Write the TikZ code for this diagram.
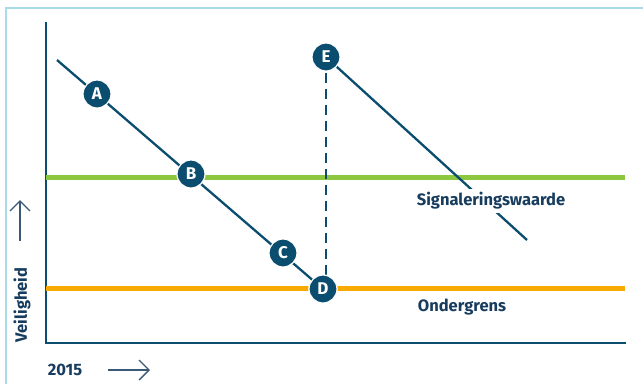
\documentclass[tikz,border=0pt]{standalone}
\usepackage{fontspec}
\setmainfont{Fira Sans}
\usetikzlibrary{arrows.meta}
\definecolor{navy}{HTML}{0B4D6E}
\definecolor{txt}{HTML}{173C5E}
\definecolor{lgreen}{HTML}{8DC63F}
\definecolor{lorange}{HTML}{F8AA00}
\definecolor{lcyan}{HTML}{A9DCE8}
\begin{document}
\begin{tikzpicture}[x=1pt,y=-1pt,
  axis/.style={navy,line width=2.6pt},
  trend/.style={navy,line width=2.3pt},
  level/.style={line width=5pt},
  pt/.style={circle,fill=navy,draw=white,line width=1.2pt,minimum size=28pt,inner sep=0pt,text=white,font=\bfseries\fontsize{17}{17}\selectfont},
  lbl/.style={text=txt,font=\bfseries\fontsize{16.5}{16.5}\selectfont},
  hint/.style={draw=txt!85,line width=1.3pt,-{Straight Barb[length=10pt,width=20pt,line width=1.3pt]}}]
\useasboundingbox (0,0) rectangle (643,384);
% frame
\draw[lcyan,line width=2pt] (6,384) -- (6,8) -- (643,8);
% axes
\coordinate (ytop) at (46,22);
\coordinate (orig) at (46,343);
\coordinate (xend) at (626,343);
\draw[axis] (ytop) -- (orig) -- (xend);
% levels
\coordinate (g1) at (46,177); \coordinate (g2) at (625,177);
\coordinate (o1) at (46,288); \coordinate (o2) at (625,288);
\draw[lgreen,level] (g1) -- (g2);
\draw[lorange,level] (o1) -- (o2);
% trend lines
\coordinate (s) at (57,60);
\coordinate (eend) at (527,240);
\node[pt] (D) at (323,289) {D};
\node[pt] (E) at (326,57) {E};
\draw[trend] (s) -- (D.center);
\draw[trend,dashed,dash pattern=on 10pt off 6pt] (E.center) -- (326,276);
\draw[trend] (E.center) -- (eend);
\node[lbl,fill=white,inner sep=3pt] (sig) at (491,201) {Signaleringswaarde};
\node[lbl] (ond) at (462,307) {Ondergrens};
\node[pt] (A) at (97,94) {A};
\node[pt] (B) at (191,174) {B};
\node[pt] (C) at (283,253) {C};
\node[pt] (D2) at (323,289) {D};
\node[pt] (E2) at (326,57) {E};
% axis labels
\node[lbl,rotate=90] (vl) at (22,305) {Veiligheid};
\node[lbl] (yr) at (65,370) {2015};
\coordinate (ya1) at (20,241); \coordinate (ya2) at (20,200);
\draw[hint] (ya1) -- (ya2);
\coordinate (xa1) at (108,370); \coordinate (xa2) at (150,370);
\draw[hint] (xa1) -- (xa2);
\end{tikzpicture}
\end{document}
